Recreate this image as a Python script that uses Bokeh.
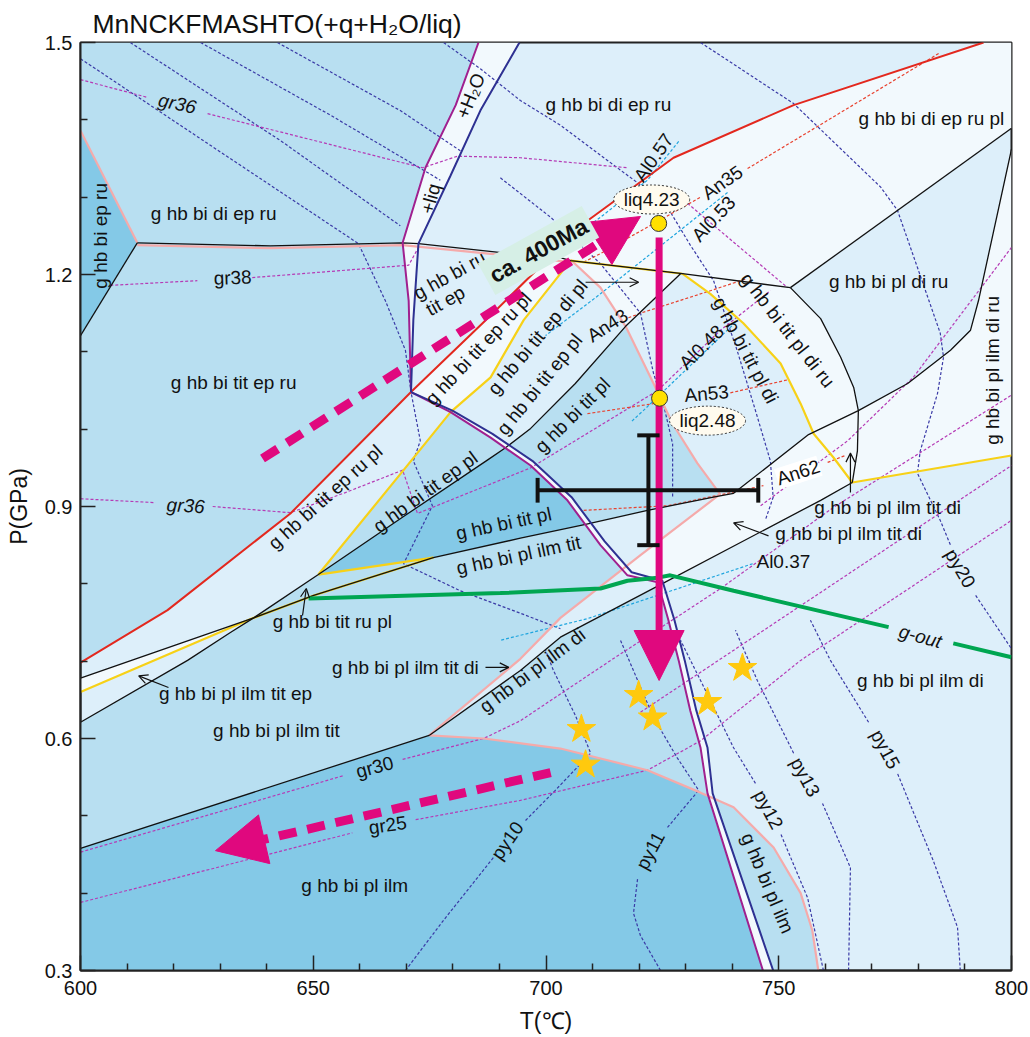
import math
from bokeh.plotting import figure
from bokeh.models import Range1d, FixedTicker, Label, Arrow, NormalHead, OpenHead
from bokeh.embed import file_html
from bokeh.resources import INLINE

# ---------------- colours ----------------
DARK = "#84C9E7"; MED = "#B8DFF1"; LIGHT = "#DDEFFA"; PALE = "#F2F9FD"
RED_C = "#E3281E"; LIQ_C = "#A0208F"; H2O_C = "#2E3192"; BLK = "#111111"
YEL = "#F7D117"; PINK = "#F5AAAA"; GRN = "#00A651"; MAG = "#E0087E"
PY_C = "#3A3AA6"; GR_C = "#B53AB5"; AN_C = "#E8422F"; AL_C = "#1FA5DE"

# ---------------- boundary lines (T degC, P GPa) ----------------
RED = [(600, 0.698), (618.7, 0.766), (645.1, 0.891), (671.0, 1.048), (688.1, 1.147),
       (701.2, 1.225), (708.1, 1.266), (727.4, 1.351), (753.2, 1.419), (794.0, 1.5)]
LIQ_UP = [(685.5, 1.5), (680.6, 1.419), (674.1, 1.338), (669.2, 1.241), (670.5, 1.166), (671.0, 1.048)]
LIQ_LOW = [(671.0, 1.048), (679.5, 1.022), (688.1, 0.989), (696.7, 0.953), (704.6, 0.908), (711.7, 0.850),
           (717.5, 0.811), (724.0, 0.802), (726.3, 0.753), (728.5, 0.701), (731.0, 0.636), (733.2, 0.588),
           (734.7, 0.529), (746.6, 0.3)]
H2O_UP = [(694.3, 1.5), (685.9, 1.412), (679.5, 1.328), (672.6, 1.240), (671.5, 1.141), (671.0, 1.048)]
H2O_LOW = [(671.0, 1.048), (679.9, 1.024), (688.5, 0.994), (697.3, 0.958), (705.5, 0.912), (712.6, 0.855),
           (718.4, 0.815), (725.0, 0.804), (727.6, 0.753), (729.8, 0.701), (732.3, 0.636), (734.7, 0.588),
           (735.8, 0.529), (748.8, 0.3)]
BLK_124 = [(612.2, 1.241), (640.8, 1.237), (669.2, 1.241), (672.6, 1.240), (690.9, 1.228), (701.2, 1.225),
           (705.3, 1.218), (729.3, 1.201), (752.5, 1.183)]
BLK_NE = [(752.5, 1.183), (800, 1.389)]
BLK_STRIP = [(612.2, 1.241), (600, 1.121)]
C1 = [(752.5, 1.183), (759.0, 1.143), (763.3, 1.093), (766.1, 1.054), (767.1, 1.024), (766.9, 0.972), (765.8, 0.931)]
L1 = [(600, 0.678), (637.2, 0.756), (650.1, 0.785), (675.8, 0.834), (694.5, 0.859), (708.5, 0.877),
      (721.8, 0.895), (736.8, 0.913), (740.3, 0.917), (756.4, 0.993), (767.1, 1.024), (777.7, 1.059),
      (786.9, 1.102), (791.2, 1.128), (792.9, 1.166), (800, 1.362)]
L2 = [(765.8, 0.931), (759.0, 0.908), (724.6, 0.799), (703.1, 0.731), (694.5, 0.688), (674.9, 0.604)]
TITOUT = [(674.9, 0.604), (600, 0.458)]
L3 = [(600, 0.621), (623.0, 0.701), (632.2, 0.737), (637.2, 0.756), (651.1, 0.812), (669.4, 0.887),
      (687.4, 0.960), (691.3, 0.976), (696.7, 1.001), (706.3, 1.059), (717.1, 1.133), (728.9, 1.201)]
Y1 = [(651.1, 0.812), (669.4, 0.947), (679.5, 1.022), (688.1, 1.067), (695.2, 1.141), (705.3, 1.218), (729.3, 1.201)]
Y2 = [(729.3, 1.201), (735.3, 1.175), (742.4, 1.137), (750.4, 1.085), (754.7, 1.033), (757.5, 0.994),
      (761.8, 0.963), (765.8, 0.931), (800, 0.966)]
Y3 = [(600, 0.660), (637.2, 0.756), (650.1, 0.785), (675.8, 0.834)]
Y5 = [(651.1, 0.812), (675.8, 0.834)]
PINK_L = [(600, 1.386), (612.2, 1.241)]
PINK_124 = [(612.2, 1.238), (640.8, 1.234), (669.2, 1.238), (690.9, 1.225), (705.3, 1.216)]
PINK_DI = [(705.3, 1.219), (711.7, 1.183), (717.1, 1.133), (723.1, 1.059), (727.2, 1.007), (732.5, 0.956),
           (737.4, 0.916), (720.3, 0.837), (703.1, 0.756), (694.5, 0.703), (674.9, 0.604), (686.6, 0.600),
           (703.1, 0.587), (721.8, 0.559), (733.2, 0.530), (740.3, 0.511), (748.9, 0.459), (754.7, 0.400),
           (757.2, 0.352), (758.5, 0.3)]
GOUT_1 = [(649.0, 0.781), (690.2, 0.788), (711.7, 0.794), (717.5, 0.804), (724.0, 0.808), (726.7, 0.811),
          (740.3, 0.791), (773.6, 0.744)]
GOUT_2 = [(787.5, 0.723), (800, 0.705)]

# ---------------- fields ----------------
FIELDS_MED = [
    [(600, 1.5), (685.5, 1.5), (680.6, 1.419), (674.1, 1.338), (669.2, 1.241), (670.5, 1.166), (671.0, 1.048),
     (645.1, 0.891), (618.7, 0.766), (600, 0.698)],
    [(679.5, 1.022), (669.4, 0.947), (651.1, 0.812), (669.4, 0.887), (687.4, 0.960), (691.3, 0.976), (688.1, 0.989)],
    [(637.2, 0.756), (651.1, 0.812), (675.8, 0.834)],
    [(600, 0.621), (623.0, 0.701), (632.2, 0.737), (637.2, 0.756), (650.1, 0.785), (675.8, 0.834), (694.5, 0.859),
     (708.5, 0.877), (711.7, 0.850), (716.4, 0.818), (703.1, 0.756), (694.5, 0.703), (674.9, 0.604), (600, 0.458)],
    [(691.3, 0.976), (696.7, 1.001), (706.3, 1.059), (717.1, 1.133), (723.1, 1.059), (727.2, 1.007), (732.5, 0.956),
     (737.4, 0.916), (736.8, 0.913), (721.8, 0.895), (708.5, 0.877), (704.6, 0.908), (696.7, 0.953)],
    [(674.9, 0.604), (694.5, 0.688), (703.1, 0.731), (724.2, 0.797), (726.3, 0.753), (728.5, 0.701), (731.0, 0.636),
     (733.2, 0.588), (734.7, 0.526), (733.2, 0.530), (721.8, 0.559), (703.1, 0.587), (686.6, 0.600)],
    [(736.2, 0.522), (748.8, 0.3), (758.5, 0.3), (757.2, 0.352), (754.7, 0.400), (748.9, 0.459), (740.3, 0.511)],
]
FIELDS_DARK = [
    [(600, 1.386), (612.2, 1.241), (600, 1.121)],
    [(651.1, 0.812), (669.4, 0.887), (687.4, 0.960), (691.3, 0.976), (696.7, 0.953), (704.6, 0.908), (708.5, 0.877),
     (694.5, 0.859), (675.8, 0.834)],
    [(600, 0.458), (674.9, 0.604), (686.6, 0.600), (703.1, 0.587), (721.8, 0.559), (733.2, 0.530), (734.7, 0.526),
     (746.6, 0.3), (600, 0.3)],
]
FIELDS_PALE = [
    LIQ_UP + H2O_UP[::-1],
    LIQ_LOW + H2O_LOW[::-1],
    [(701.2, 1.225), (708.1, 1.266), (727.4, 1.351), (753.2, 1.419), (794.0, 1.5), (800, 1.5), (800, 1.389),
     (752.5, 1.183), (729.3, 1.201), (705.3, 1.218)],
    [(671.0, 1.048), (688.1, 1.147), (701.2, 1.225), (705.3, 1.218), (695.2, 1.141), (688.1, 1.067), (679.5, 1.022)],
    [(729.3, 1.201), (735.3, 1.175), (742.4, 1.137), (750.4, 1.085), (754.7, 1.033), (757.5, 0.994), (761.8, 0.963),
     (765.8, 0.931), (766.9, 0.972), (767.1, 1.024), (766.1, 1.054), (763.3, 1.093), (759.0, 1.143), (752.5, 1.183)],
    [(767.1, 1.024), (766.9, 0.972), (765.8, 0.931), (800, 0.966), (800, 1.362), (792.9, 1.166), (791.2, 1.128),
     (786.9, 1.102), (777.7, 1.059)],
    [(737.4, 0.916), (720.3, 0.837), (717.3, 0.822), (718.4, 0.815), (725.0, 0.804), (725.2, 0.800), (759.0, 0.908),
     (765.8, 0.931), (766.9, 0.972), (767.1, 1.024), (756.4, 0.993), (740.3, 0.917)],
    [(705.3, 1.218), (711.7, 1.183), (717.1, 1.133), (728.9, 1.201)],
    [(600, 0.678), (637.2, 0.756), (600, 0.660)],
]

# ---------------- isopleths ----------------
PY_LINES = [
    [(669.8, 0.3), (678.0, 0.365), (688.7, 0.446)],
    [(695.6, 0.494), (702.0, 0.533), (709.6, 0.581), (706.3, 0.630), (701.6, 0.688), (699.9, 0.714)],
    [(724.6, 0.3), (720.3, 0.345), (718.8, 0.374), (719.7, 0.420)],
    [(726.1, 0.485), (732.8, 0.533), (728.2, 0.575), (723.1, 0.627), (719.7, 0.675), (716.0, 0.727)],
    [(759.6, 0.3), (756.2, 0.394), (750.4, 0.477)],
    [(745.0, 0.542), (740.3, 0.588), (733.2, 0.675), (728.9, 0.727)],
    [(765.0, 0.3), (765.4, 0.433), (759.4, 0.516)],
    [(753.2, 0.581), (745.4, 0.675), (740.7, 0.740)],
    [(789.0, 0.3), (788.4, 0.356), (783.2, 0.442), (775.5, 0.555)],
    [(769.3, 0.621), (761.1, 0.701), (756.8, 0.753)],
    [(733.2, 1.5), (753.2, 1.421), (771.9, 1.313), (775.5, 1.283), (779.8, 1.209), (784.7, 1.124), (785.4, 1.093),
     (784.1, 1.046), (780.4, 0.972), (779.8, 0.943), (784.7, 0.882), (786.9, 0.850)],
    [(792.3, 0.785), (800, 0.716)],
    [(600, 1.479), (632.9, 1.347), (659.7, 1.240), (665.5, 1.166), (669.8, 1.102), (671.0, 1.048), (673.0, 0.985),
     (671.5, 0.959), (675.6, 0.901), (669.4, 0.826), (681.6, 0.791), (694.5, 0.762), (703.1, 0.742)],
    [(610.7, 1.5), (643.0, 1.373), (668.7, 1.263)],
    [(625.8, 1.5), (653.7, 1.406), (677.3, 1.322)],
    [(642.3, 1.5), (668.7, 1.412), (681.6, 1.360)],
    [(678.0, 1.5), (685.9, 1.466), (694.5, 1.425), (703.1, 1.393), (720.9, 1.313), (726.1, 1.287), (731.0, 1.238),
     (736.0, 1.192), (741.1, 1.101), (745.0, 1.024), (748.2, 0.959), (748.8, 0.912), (747.1, 0.882)],
    [(690.2, 1.325), (701.0, 1.274), (711.7, 1.214), (720.3, 1.150), (723.1, 1.072), (725.2, 1.033), (727.2, 0.981),
     (727.2, 0.912)],
]
GR_LINES = [
    [(600, 1.452), (614.4, 1.429)],
    [(627.3, 1.408), (673.5, 1.338), (681.0, 1.353), (694.5, 1.351), (717.5, 1.338)],
    [(606.4, 1.186), (625.1, 1.192)],
    [(636.9, 1.196), (670.5, 1.212), (672.6, 1.235)],
    [(600, 0.910), (616.1, 0.905)],
    [(628.4, 0.900), (645.1, 0.892), (656.9, 0.918), (669.2, 0.947), (672.4, 0.891), (696.7, 0.950), (724.0, 1.050),
     (737.5, 1.128), (748.2, 1.179)],
    [(600, 0.453), (656.5, 0.552)],
    [(669.2, 0.573), (686.6, 0.600), (694.5, 0.623), (713.9, 0.701), (737.5, 0.794), (761.8, 0.899), (800, 1.044)],
    [(600, 0.388), (658.4, 0.478)],
    [(672.0, 0.495), (694.5, 0.520), (721.8, 0.559), (733.2, 0.597), (754.7, 0.701), (800, 0.882)],
    [(720.3, 0.634), (800, 0.953)],
    [(746.1, 0.901), (764.8, 0.985), (778.9, 1.067), (800, 1.235)],
    [(730.4, 1.292), (751.9, 1.183)],
]
AN_LINES = [
    [(708.1, 1.216), (711.7, 1.227), (733.2, 1.300)],
    [(743.3, 1.337), (784.7, 1.487)],
    [(717.7, 1.144), (720.3, 1.150), (735.3, 1.179), (742.8, 1.194)],
    [(708.9, 1.020), (723.1, 1.033)],
    [(739.6, 1.047), (752.1, 1.064)],
    [(708.1, 0.895), (726.1, 0.901), (739.0, 0.917), (746.7, 0.927)],
    [(760.5, 0.957), (764.3, 0.966)],
]
AL_LINES = [
    [(728.5, 1.372), (721.8, 1.322), (711.7, 1.274), (703.1, 1.235), (694.5, 1.195)],
    [(739.0, 1.306), (711.7, 1.175), (699.9, 1.121)],
    [(740.7, 1.138), (720.9, 1.024), (718.2, 1.009)],
    [(744.4, 0.826), (708.9, 0.755), (690.2, 0.727)],
]

# ---------------- points ----------------
STAR_T = [742.2, 719.9, 722.9, 734.7, 707.6, 708.5]
STAR_P = [0.691, 0.656, 0.627, 0.647, 0.612, 0.566]
LIQPT_T = [724.2, 724.4]
LIQPT_P = [1.266, 1.040]
LIQTAG_T = [722.7, 734.7]
LIQTAG_P = [1.297, 1.011]
LIQTAG_TXT = ["liq4.23", "liq2.48"]
XC_T, XC_P = 722.0, 0.921
XC_T_LO, XC_T_HI = 698.2, 745.6
XC_P_LO, XC_P_HI = 0.850, 0.992
CAP_DT, CAP_DP = 2.4, 0.016
PATH_T, PATH_P0, PATH_P1 = 724.3, 1.248, 0.675
DASH_UP = (639.1, 0.962, 720.3, 1.275)
DASH_DN = (701.0, 0.556, 629.0, 0.455)
POINTERS = [((708.5, 1.190), (719.9, 1.190)), ((647.7, 0.759), (648.5, 0.794)),
            ((687.0, 0.692), (692.0, 0.692)), ((618.9, 0.666), (612.5, 0.681)),
            ((747.8, 0.862), (740.3, 0.879)), ((765.4, 0.918), (765.4, 0.969))]

FIELD_LABELS = [
    ("g hb bi di ep ru", 628.6, 1.279, 0), ("g hb bi ep ru", 604.3, 1.250, 90),
    ("g hb bi di ep ru", 713.4, 1.420, 0), ("g hb bi di ep ru pl", 782.8, 1.402, 0),
    ("g hb bi ru", 679.3, 1.199, 29), ("tit ep", 678.4, 1.166, 29),
    ("g hb bi pl di ru", 773.6, 1.191, 0), ("g hb bi pl ilm di ru", 795.9, 1.076, 90),
    ("g hb bi tit pl di ru", 751.9, 1.128, -52), ("g hb bi tit pl di", 742.9, 1.102, -62),
    ("g hb bi tit ep di pl", 698.2, 1.119, 50), ("g hb bi tit ep pl", 698.6, 1.058, 51),
    ("g hb bi tit pl", 705.7, 1.018, 45), ("g hb bi tit ep ru pl", 685.5, 1.104, 47),
    ("g hb bi tit ep ru", 632.9, 1.060, 0), ("g hb bi tit ep ru pl", 652.6, 0.912, 42),
    ("g hb bi tit ep pl", 674.1, 0.919, 36), ("g hb bi tit pl", 690.9, 0.878, 12),
    ("g hb bi pl ilm tit", 694.1, 0.837, 12), ("g hb bi tit ru pl", 654.1, 0.751, 0),
    ("g hb bi pl ilm tit di", 669.8, 0.692, 0), ("g hb bi pl ilm di", 697.1, 0.688, 37),
    ("g hb bi pl ilm tit ep", 633.3, 0.658, 0), ("g hb bi pl ilm tit", 642.1, 0.610, 0),
    ("g hb bi pl ilm", 658.9, 0.410, 0), ("g hb bi pl ilm", 747.6, 0.413, -67),
    ("g hb bi pl ilm di", 780.4, 0.675, 0), ("g hb bi pl ilm tit di", 765.0, 0.865, 0),
    ("g hb bi pl ilm tit di", 773.4, 0.899, 0),
    ("+liq", 675.2, 1.298, 75), ("+H\u2082O", 683.8, 1.431, 68),
]
ISO_LABELS = [
    ("gr36", 620.8, 1.421, -12, "italic"), ("gr38", 632.7, 1.196, 2, "normal"),
    ("gr36", 622.6, 0.901, -3, "italic"), ("gr30", 663.2, 0.563, 15, "normal"),
    ("gr25", 666.0, 0.488, 8, "normal"), ("Al0.57", 723.1, 1.351, 55, "normal"),
    ("An35", 737.9, 1.319, 35, "normal"), ("Al0.53", 736.0, 1.272, 47, "normal"),
    ("Al0.48", 733.4, 1.106, 45, "normal"), ("An53", 734.5, 1.046, 5, "normal"),
    ("An43", 713.2, 1.134, 33, "normal"), ("Al0.37", 751.0, 0.829, 0, "normal"),
    ("py10", 691.7, 0.468, 55, "normal"), ("py11", 722.4, 0.455, 62, "normal"),
    ("py12", 747.8, 0.508, -62, "normal"), ("py13", 755.7, 0.550, -62, "normal"),
    ("py15", 772.9, 0.586, -62, "normal"), ("py20", 789.0, 0.820, -60, "normal"),
    ("g-out", 780.4, 0.732, -15, "italic"),
]

FONT = "Liberation Sans"

def xs(pts):
    return [a for a, _ in pts]

def ys(pts):
    return [b for _, b in pts]

p = figure(width=1030, height=1037, x_range=Range1d(600, 800), y_range=Range1d(0.3, 1.5),
           output_backend="svg", toolbar_location=None,
           min_border_left=80, min_border_right=19, min_border_top=42, min_border_bottom=67)
p.background_fill_color = LIGHT
p.border_fill_color = "white"
p.grid.visible = False
p.outline_line_color = "#222222"
p.outline_line_width = 2

p.title.text = "MnNCKFMASHTO(+q+H\u2082O/liq)"
p.title.text_font = FONT
p.title.text_font_size = "26.5px"
p.title.text_font_style = "normal"
p.title.text_color = "#111111"
p.title.align = "left"
p.title.offset = 12
p.title.standoff = 8

p.xaxis.ticker = FixedTicker(ticks=[600, 650, 700, 750, 800],
                             minor_ticks=[t for t in range(610, 800, 10) if t % 50])
p.yaxis.ticker = FixedTicker(ticks=[0.3, 0.6, 0.9, 1.2, 1.5],
                             minor_ticks=[0.4, 0.5, 0.7, 0.8, 1.0, 1.1, 1.3, 1.4])
for ax in (p.xaxis[0], p.yaxis[0]):
    ax.major_tick_in = 15; ax.major_tick_out = 0
    ax.minor_tick_in = 7; ax.minor_tick_out = 0
    ax.axis_line_width = 2; ax.axis_line_color = "#222222"
    ax.major_tick_line_color = "#222222"; ax.major_tick_line_width = 1.5
    ax.minor_tick_line_color = "#222222"; ax.minor_tick_line_width = 1.5
    ax.major_label_text_font = FONT; ax.major_label_text_font_size = "20px"
    ax.major_label_text_color = "#111111"
    ax.axis_label_text_font = FONT; ax.axis_label_text_font_size = "23px"
    ax.axis_label_text_font_style = "normal"; ax.axis_label_text_color = "#111111"
p.xaxis.major_label_standoff = 10
p.yaxis.major_label_standoff = 8
p.yaxis.axis_label = "P(GPa)"
p.yaxis.axis_label_standoff = 10
p.xaxis.axis_label = "T(\u2103)"
p.xaxis.axis_label_standoff = 10

for poly in FIELDS_MED:
    p.patch(xs(poly), ys(poly), fill_color=MED, line_alpha=0)
for poly in FIELDS_DARK:
    p.patch(xs(poly), ys(poly), fill_color=DARK, line_alpha=0)
for poly in FIELDS_PALE:
    p.patch(xs(poly), ys(poly), fill_color=PALE, line_alpha=0)

def iso(lines, color):
    for ln in lines:
        p.line(xs(ln), ys(ln), line_color=color, line_width=1.2, line_dash="3 2")

iso(PY_LINES, PY_C); iso(GR_LINES, GR_C); iso(AN_LINES, AN_C); iso(AL_LINES, AL_C)

def bl(pts, color, w):
    p.line(xs(pts), ys(pts), line_color=color, line_width=w)

for ln in (PINK_L, PINK_124, PINK_DI):
    bl(ln, PINK, 2.2)
for ln in (Y1, Y2, Y3, Y5):
    bl(ln, YEL, 2.2)
for ln in (BLK_124, BLK_NE, BLK_STRIP, C1, L1, L2, TITOUT, L3):
    bl(ln, BLK, 1.3)
bl(RED, RED_C, 2)
bl(LIQ_UP, LIQ_C, 2); bl(LIQ_LOW, LIQ_C, 2)
bl(H2O_UP, H2O_C, 2); bl(H2O_LOW, H2O_C, 2)
bl(GOUT_1, GRN, 4); bl(GOUT_2, GRN, 4)

# small pointer arrows
for (a, b) in POINTERS:
    p.add_layout(Arrow(x_start=a[0], y_start=a[1], x_end=b[0], y_end=b[1], line_width=1.2, line_color=BLK,
                       end=OpenHead(size=9, line_width=1.2, line_color=BLK)))

# dashed P-T path arrows
for (x0, y0, x1, y1) in (DASH_UP, DASH_DN):
    p.add_layout(Arrow(x_start=x0, y_start=y0, x_end=x1, y_end=y1, line_width=9, line_color=MAG,
                       line_dash="18 11",
                       end=NormalHead(size=50, fill_color=MAG, line_color=MAG, line_width=1)))

# decompression path
p.add_layout(Arrow(x_start=PATH_T, y_start=PATH_P0, x_end=PATH_T, y_end=PATH_P1, line_width=7, line_color=MAG,
                   end=NormalHead(size=50, fill_color=MAG, line_color=MAG, line_width=1)))

# error cross (drawn above the path arrow)
p.segment(x0=[XC_T_LO, XC_T], y0=[XC_P, XC_P_LO], x1=[XC_T_HI, XC_T], y1=[XC_P, XC_P_HI],
          line_color=BLK, line_width=4, level="overlay")
p.segment(x0=[XC_T_LO, XC_T_HI, XC_T - CAP_DT, XC_T - CAP_DT],
          y0=[XC_P - CAP_DP, XC_P - CAP_DP, XC_P_LO, XC_P_HI],
          x1=[XC_T_LO, XC_T_HI, XC_T + CAP_DT, XC_T + CAP_DT],
          y1=[XC_P + CAP_DP, XC_P + CAP_DP, XC_P_LO, XC_P_HI],
          line_color=BLK, line_width=4, level="overlay")

p.scatter(LIQPT_T, LIQPT_P, marker="circle", size=16, fill_color="#FFE000", line_color="#333333",
          line_width=1, level="overlay")
p.scatter(STAR_T, STAR_P, marker="star", size=30, fill_color="#FFC90E", line_color="#FFC90E")

p.ellipse(LIQTAG_T, LIQTAG_P, width=76, height=29, width_units="screen", height_units="screen",
          fill_color="#FFFBEF", line_color="#333333", line_dash="2 2", line_width=1)

def lab(t, x, y, ang=0, size="19px", style="normal", **kw):
    p.add_layout(Label(x=x, y=y, text=t, angle=math.radians(ang), text_align="center",
                       text_baseline="middle", text_font=FONT, text_font_size=size,
                       text_font_style=style, text_color="#111111", **kw))

for t, x, y, a in FIELD_LABELS:
    lab(t, x, y, a)
for t, x, y, a, s in ISO_LABELS:
    lab(t, x, y, a, style=s)
lab("An62", 754.2, 0.944, 18, background_fill_color="white")
for t, x, y in zip(LIQTAG_TXT, LIQTAG_T, LIQTAG_P):
    lab(t, x, y)
lab("ca. 400Ma", 698.4, 1.231, 29, size="23px", style="bold", background_fill_color="#D6EFE6", padding=5)

open("out.html", "w").write(file_html(p, INLINE))
